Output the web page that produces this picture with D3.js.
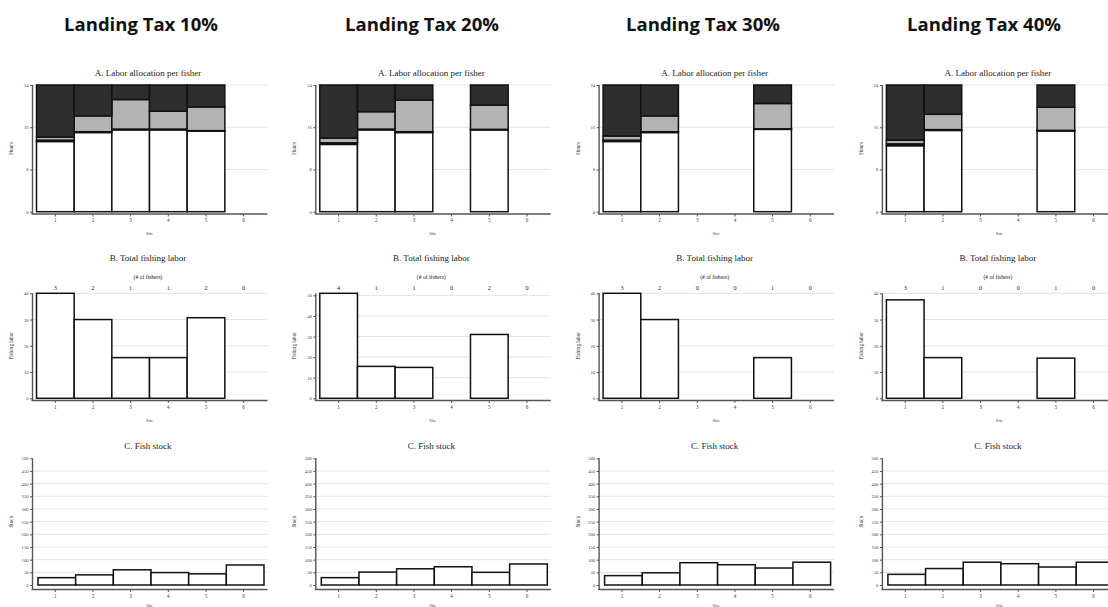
<!DOCTYPE html>
<html>
<head>
<meta charset="utf-8">
<script src="https://cdn.jsdelivr.net/npm/d3@7"></script>
<style>
  html, body { margin: 0; padding: 0; background: #fff; }
  svg { display: block; }
  .tick text { font-family: "Liberation Serif", "DejaVu Serif", serif; }
</style>
</head>
<body>
<svg id="chart" width="1108" height="607"></svg>
<script>
// ---- data -------------------------------------------------------------
const taxLabels = ["Landing Tax 10%", "Landing Tax 20%", "Landing Tax 30%", "Landing Tax 40%"];
const sites = ["1", "2", "3", "4", "5", "6"];

// Panel A: hours per fisher at each site (stacked, bottom to top)
const fishingHours = [
  [13.3, 15.0, 15.5, 15.5, 15.25, 0],
  [12.75, 15.5, 15.0, 0, 15.5, 0],
  [13.3, 15.0, 0, 0, 15.6, 0],
  [12.5, 15.4, 0, 0, 15.3, 0]
];
const travelHours = [
  [0.25, 0.15, 0.15, 0.15, 0.1, 0],
  [0.3, 0.15, 0.15, 0, 0.1, 0],
  [0.25, 0.15, 0, 0, 0.1, 0],
  [0.35, 0.15, 0, 0, 0.1, 0]
];
const onshoreHours = [
  [0.6, 3.0, 5.6, 3.4, 4.5, 0],
  [0.9, 3.3, 6.0, 0, 4.6, 0],
  [0.8, 3.0, 0, 0, 4.8, 0],
  [0.7, 2.9, 0, 0, 4.4, 0]
];
const leisureHours = [
  [9.85, 5.85, 2.75, 4.95, 4.15, 0],
  [10.05, 5.05, 2.85, 0, 3.8, 0],
  [9.65, 5.85, 0, 0, 3.5, 0],
  [10.45, 5.55, 0, 0, 4.2, 0]
];

// Panel B: total fishing labor and number of fishers per site
const totalLabor = [
  [40, 30, 15.5, 15.5, 30.7, 0],
  [51, 15.5, 15, 0, 31, 0],
  [40, 30, 0, 0, 15.5, 0],
  [37.5, 15.5, 0, 0, 15.3, 0]
];
const fisherCounts = [
  [3, 2, 1, 1, 2, 0],
  [4, 1, 1, 0, 2, 0],
  [3, 2, 0, 0, 1, 0],
  [3, 1, 0, 0, 1, 0]
];

// Panel C: fish stock per site
const fishStock = [
  [29, 40, 60, 49, 44, 79],
  [29, 51, 64, 72, 50, 83],
  [37, 48, 88, 80, 67, 90],
  [42, 65, 90, 84, 71, 90]
];

const hourTicks = [0, 8, 16, 24];
const laborTicksBase = [0, 10, 20, 30, 40, 50];
const stockTicks = [0, 50, 100, 150, 200, 250, 300, 350, 400, 450, 500];

// ---- layout -----------------------------------------------------------
const svg = d3.select("#chart");
const SERIF = '"Liberation Serif", "DejaVu Serif", serif';
const colStep = 283.3;
const axisX0 = 32.5;
const plotW = 235;           // axis to end of grid
const bandL = 4, bandR = 230; // band range offsets from the axis

const fills = { fishing: "#ffffff", travel: "#111111", onshore: "#b3b3b3", leisure: "#2e2e2e" };
const stackKeys = ["fishing", "travel", "onshore", "leisure"];

function drawAxes(g, x, y, ticks, gridTicks, yTop, yBase, axisLineY, yTitle, ySiteLabel) {
  // grid
  g.append("g").selectAll("line").data(gridTicks).join("line")
    .attr("x1", 0).attr("x2", plotW)
    .attr("y1", d => y(d)).attr("y2", d => y(d))
    .attr("stroke", "#e4e4e4").attr("stroke-width", 1);

  // y axis
  const ya = g.append("g").call(d3.axisLeft(y).tickValues(ticks).tickSize(2.5).tickPadding(1.5));
  ya.select(".domain").remove();
  ya.selectAll(".tick line").attr("stroke", "#555").attr("stroke-width", 1);
  ya.selectAll(".tick text").attr("font-size", 4.6).attr("fill", "#444");
  g.append("line").attr("x1", 0).attr("x2", 0).attr("y1", yTop).attr("y2", axisLineY)
    .attr("stroke", "#555").attr("stroke-width", 1.4);

  // x axis
  const xa = g.append("g").attr("transform", `translate(0,${axisLineY})`)
    .call(d3.axisBottom(x).tickSize(2.5).tickPadding(2));
  xa.select(".domain").remove();
  xa.selectAll(".tick line").attr("stroke", "#555").attr("stroke-width", 1);
  xa.selectAll(".tick text").attr("font-size", 5.2).attr("fill", "#444");
  g.append("line").attr("x1", -1).attr("x2", plotW).attr("y1", axisLineY).attr("y2", axisLineY)
    .attr("stroke", "#555").attr("stroke-width", 1.4);

  g.append("text").attr("x", (bandL + bandR) / 2).attr("y", ySiteLabel)
    .attr("text-anchor", "middle").attr("font-family", SERIF).attr("font-size", 4.6)
    .attr("fill", "#444").text("Site");

  g.append("text")
    .attr("transform", `translate(-19.5,${(yTop + yBase) / 2}) rotate(-90)`)
    .attr("text-anchor", "middle").attr("font-family", SERIF).attr("font-size", 5.2)
    .attr("fill", "#333").text(yTitle);
}

function panelTitle(g, y, text, size) {
  g.append("text").attr("x", plotW / 2 - 2).attr("y", y)
    .attr("text-anchor", "middle").attr("font-family", SERIF).attr("font-size", size)
    .attr("fill", "#222").text(text);
}

taxLabels.forEach((label, c) => {
  const ox = axisX0 + c * colStep;

  // column heading
  svg.append("text")
    .attr("x", 141 + c * 281).attr("y", 31)
    .attr("text-anchor", "middle")
    .attr("font-family", '"Open Sans", "Liberation Sans", sans-serif')
    .attr("font-weight", 700).attr("font-size", 18.5).attr("fill", "#111")
    .text(label);

  const g = svg.append("g").attr("transform", `translate(${ox},0)`);
  const x = d3.scaleBand().domain(sites).range([bandL, bandR]).padding(0);

  // ---- A. Labor allocation per fisher ----
  {
    const gA = g.append("g");
    const y = d3.scaleLinear().domain([0, 24]).range([211.7, 85]);
    drawAxes(gA, x, y, hourTicks, [8, 16, 24], 85, 211.7, 214, "Hours", 235);
    panelTitle(gA, 75.5, "A. Labor allocation per fisher", 9);

    const rows = sites.map((s, i) => ({
      site: s,
      fishing: fishingHours[c][i],
      travel: travelHours[c][i],
      onshore: onshoreHours[c][i],
      leisure: leisureHours[c][i]
    }));
    const stacked = d3.stack().keys(stackKeys)(rows);
    gA.append("g").selectAll("g").data(stacked).join("g")
      .attr("fill", d => fills[d.key])
      .selectAll("rect").data(d => d.filter(p => p[1] - p[0] > 0)).join("rect")
      .attr("x", d => x(d.data.site))
      .attr("width", x.bandwidth())
      .attr("y", d => y(d[1]))
      .attr("height", d => y(d[0]) - y(d[1]))
      .attr("stroke", "#111").attr("stroke-width", 1.5);
  }

  // ---- B. Total fishing labor ----
  {
    const gB = g.append("g");
    const maxVal = Math.max(40, d3.max(totalLabor[c]));
    const y = d3.scaleLinear().domain([0, maxVal]).range([398.3, 293.3]);
    const ticks = laborTicksBase.filter(t => t <= maxVal);
    drawAxes(gB, x, y, ticks, ticks.filter(t => t > 0), 293.3, 398.3, 400.5, "Fishing labor", 422);
    panelTitle(gB, 261, "B. Total fishing labor", 9);
    panelTitle(gB, 279, "(# of fishers)", 5.6);

    gB.append("g").selectAll("text").data(fisherCounts[c]).join("text")
      .attr("x", (d, i) => x(sites[i]) + x.bandwidth() / 2)
      .attr("y", 289.5)
      .attr("text-anchor", "middle").attr("font-family", SERIF).attr("font-size", 6.2)
      .attr("fill", "#222").text(d => d);

    gB.append("g").selectAll("rect")
      .data(totalLabor[c].map((v, i) => ({ site: sites[i], v })).filter(d => d.v > 0))
      .join("rect")
      .attr("x", d => x(d.site)).attr("width", x.bandwidth())
      .attr("y", d => y(d.v)).attr("height", d => y(0) - y(d.v))
      .attr("fill", "#fff").attr("stroke", "#111").attr("stroke-width", 1.5);
  }

  // ---- C. Fish stock ----
  {
    const gC = g.append("g");
    const y = d3.scaleLinear().domain([0, 500]).range([585, 458.3]);
    drawAxes(gC, x, y, stockTicks, stockTicks.filter(t => t > 0 && t < 500), 458.3, 585, 589.5, "Stock", 607);
    panelTitle(gC, 449, "C. Fish stock", 9);

    gC.append("g").selectAll("rect")
      .data(fishStock[c].map((v, i) => ({ site: sites[i], v })))
      .join("rect")
      .attr("x", d => x(d.site) + 1.5).attr("width", x.bandwidth())
      .attr("y", d => y(d.v)).attr("height", d => y(0) - y(d.v))
      .attr("fill", "#fff").attr("stroke", "#111").attr("stroke-width", 1.5);
  }
});
</script>
</body>
</html>
